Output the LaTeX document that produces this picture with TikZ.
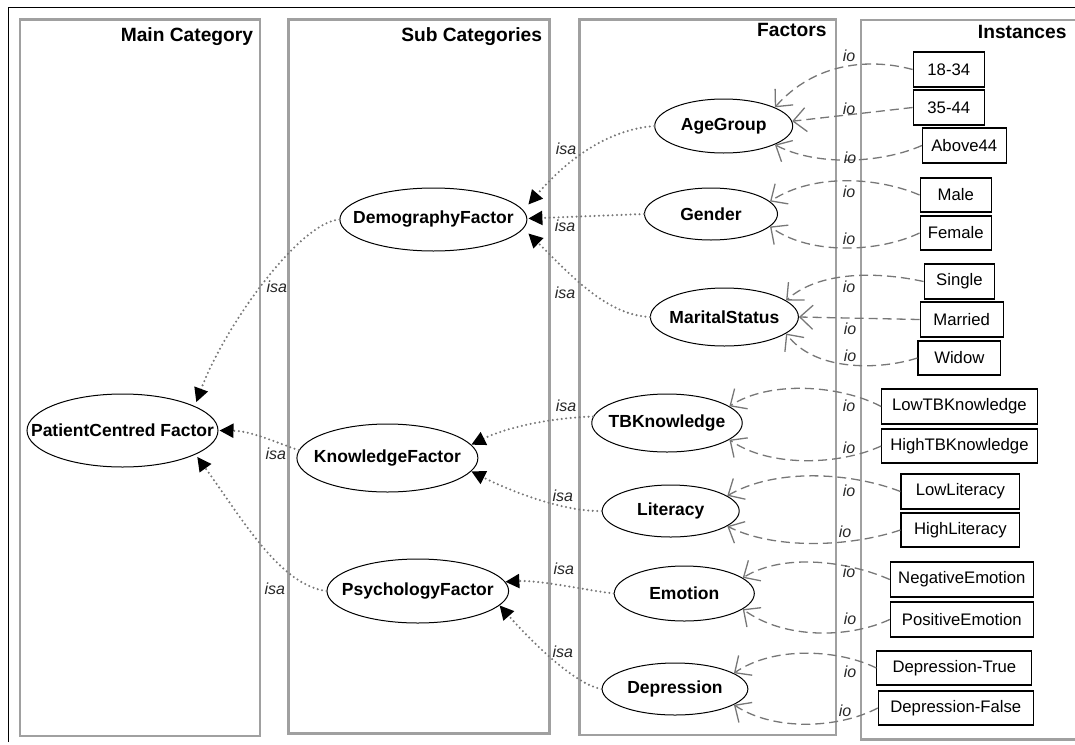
\documentclass[tikz,border=0pt]{standalone}
\usepackage{fontspec}
\setmainfont{Liberation Sans}
\usetikzlibrary{arrows.meta,shapes.geometric}

\definecolor{panelgray}{HTML}{A0A0A0}
\definecolor{linkgray}{HTML}{777777}

\tikzset{
  panel/.style={draw=panelgray, line width=2.4pt},
  paneltitle/.style={anchor=base east, inner sep=0pt, font=\fontsize{19.2}{22}\selectfont\bfseries},
  factortext/.style={inner sep=0pt, font=\fontsize{17.5}{20}\selectfont\bfseries},
  factor/.style n args={3}{ellipse, draw=black, line width=1pt, fill=white, inner sep=0pt,
    minimum width=#1, minimum height=#2, label={[factortext]center:#3}},
  instance/.style={rectangle, draw=black, line width=1.1pt, fill=white, inner sep=0pt,
    font=\fontsize{16.7}{19}\selectfont},
  isa/.style={draw=linkgray, line width=2.3pt, line cap=round, dash pattern=on 0pt off 4.5pt,
    -{Triangle[length=14pt,width=14pt,black]}},
  io/.style={draw=linkgray, line width=1.3pt, dash pattern=on 9pt off 5pt,
    -{Straight Barb[length=13pt,width=24pt,linkgray]}},
  rellabel/.style={inner sep=0pt, font=\fontsize{16}{18}\selectfont\itshape, text=black!85}
}

\begin{document}
\begin{tikzpicture}[x=1pt,y=-1pt]
\useasboundingbox (0,0) rectangle (1075,744);

% outer frame
\draw[black, line width=1.4pt] (8.3,742) -- (8.3,7.3) -- (1075,7.3);

% column panels
\draw[panel] (20,19.5) rectangle (260,736);
\draw[panel] (288.3,19.5) rectangle (549.3,733.3);
\draw[panel] (579.3,19.5) rectangle (835.7,735);
\draw[panel] (1075,20) -- (860.7,20) -- (860.7,739.3) -- (1075,739.3);

\node[paneltitle] (tmain) at (253.3,41.7) {Main Category};
\node[paneltitle] (tsub)  at (542.3,41.7) {Sub Categories};
\node[paneltitle] (tfac)  at (826.7,36.7) {Factors};
\node[paneltitle] (tinst) at (1066.7,38.3) {Instances};

% main and sub categories
\node[factor={191pt}{73pt}{PatientCentred Factor}] (pcf)   at (122.5,430.5) {};
\node[factor={187pt}{63pt}{DemographyFactor}]      (dem)   at (433.4,219.5) {};
\node[factor={181pt}{68pt}{KnowledgeFactor}]       (know)  at (387.4,458) {};
\node[factor={181.6pt}{64pt}{PsychologyFactor}]    (psych) at (417.8,591) {};

% factors
\node[factor={138pt}{54pt}{AgeGroup}]      (age)     at (723.7,126) {};
\node[factor={133pt}{52pt}{Gender}]        (gender)  at (711,214) {};
\node[factor={148pt}{58pt}{MaritalStatus}] (marital) at (724.4,317) {};
\node[factor={150.5pt}{58pt}{TBKnowledge}] (tbk)     at (667,423) {};
\node[factor={137pt}{52pt}{Literacy}]      (lit)     at (670.7,511) {};
\node[factor={140pt}{55pt}{Emotion}]       (emo)     at (684.3,593.5) {};
\node[factor={145.7pt}{52pt}{Depression}]  (dep)     at (675,689) {};

% instances
\node[instance, minimum width=71.3pt, minimum height=35pt] (b1834)    at (948.8,69.5)  {18-34};
\node[instance, minimum width=71.3pt, minimum height=35pt] (b3544)    at (948.8,107.5) {35-44};
\node[instance, minimum width=83.7pt, minimum height=35pt] (above)    at (964.3,145.5) {Above44};
\node[instance, minimum width=71.3pt, minimum height=34pt] (male)     at (955.7,195)   {Male};
\node[instance, minimum width=71.3pt, minimum height=34pt] (female)   at (955.7,233)   {Female};
\node[instance, minimum width=70.6pt, minimum height=35pt] (single)   at (959.4,281.5) {Single};
\node[instance, minimum width=83.3pt, minimum height=35pt] (married)  at (961.7,319.5) {Married};
\node[instance, minimum width=82.7pt, minimum height=34pt] (widow)    at (959.3,358)   {Widow};
\node[instance, minimum width=155.3pt, minimum height=35pt] (lowtbk)  at (959.4,406.5) {LowTBKnowledge};
\node[instance, minimum width=155.3pt, minimum height=34pt] (hightbk) at (959.4,446)   {HighTBKnowledge};
\node[instance, minimum width=118.8pt, minimum height=35pt] (lowlit)  at (960.4,491.5) {LowLiteracy};
\node[instance, minimum width=118.8pt, minimum height=34pt] (highlit) at (960.4,530)   {HighLiteracy};
\node[instance, minimum width=143pt, minimum height=35pt] (negemo)    at (961.8,579.5) {NegativeEmotion};
\node[instance, minimum width=143pt, minimum height=35pt] (posemo)    at (961.8,619.5) {PositiveEmotion};
\node[instance, minimum width=155pt, minimum height=34pt] (deptrue)   at (954.4,668)   {Depression-True};
\node[instance, minimum width=155pt, minimum height=34pt] (depfalse)  at (955.8,708)   {Depression-False};

% isa links
\draw[isa] (dem.west) .. controls (300,222) and (225,325) .. ([xshift=4pt,yshift=3pt]pcf.20);
\draw[isa] (know.175) .. controls (270,440) and (250,431) .. ([xshift=1pt]pcf.east);
\draw[isa] (psych.west) .. controls (280,585) and (243,520) .. ([xshift=5pt,yshift=-1pt]pcf.-20);
\draw[isa] (age.west) .. controls (605,130) and (565,162) .. ([xshift=1pt,yshift=15pt]dem.east);
\draw[isa] (gender.west) -- ([xshift=1pt,yshift=1pt]dem.east);
\draw[isa] (marital.west) .. controls (605,315) and (568,272) .. ([xshift=1pt,yshift=-14pt]dem.east);
\draw[isa] (tbk.175) .. controls (548,418) and (505,428) .. (know.9);
\draw[isa] (lit.west) .. controls (565,512) and (512,492) .. (know.-9);
\draw[isa] (emo.west) .. controls (585,590) and (540,580) .. (psych.6);
\draw[isa] (dep.west) .. controls (575,685) and (530,640) .. (psych.-10);

% io links
\draw[io] (b1834.west) .. controls (870,58) and (815,62) .. (age.20);
\draw[io] (b3544.west) -- (age.4);
\draw[io] (above.west) .. controls (880,164) and (815,166) .. (age.-20);
\draw[io] (male.west) .. controls (880,178) and (815,172) .. (gender.12);
\draw[io] (female.west) .. controls (880,252) and (810,256) .. (gender.-12);
\draw[io] (single.west) .. controls (880,272) and (820,270) .. (marital.15);
\draw[io] (married.west) -- (marital.east);
\draw[io] (widow.west) .. controls (880,370) and (815,372) .. (marital.-15);
\draw[io] (lowtbk.west) .. controls (840,385) and (770,380) .. (tbk.15);
\draw[io] (hightbk.west) .. controls (840,465) and (770,468) .. (tbk.-15);
\draw[io] (lowlit.west) .. controls (850,472) and (775,468) .. (lit.15);
\draw[io] (highlit.west) .. controls (850,547) and (775,550) .. (lit.-15);
\draw[io] (negemo.west) .. controls (850,562) and (785,552) .. (emo.15);
\draw[io] (posemo.west) .. controls (850,638) and (785,640) .. (emo.-15);
\draw[io] (deptrue.west) .. controls (840,650) and (775,645) .. (dep.15);
\draw[io] (depfalse.west) .. controls (840,728) and (775,732) .. (dep.-15);

% link labels
\node[rellabel] (isa1)  at (276.9,287) {isa};
\node[rellabel] (isa2)  at (275.8,454) {isa};
\node[rellabel] (isa3)  at (274.8,589) {isa};
\node[rellabel] (isa4)  at (566,149) {isa};
\node[rellabel] (isa5)  at (565,226) {isa};
\node[rellabel] (isa6)  at (565,293) {isa};
\node[rellabel] (isa7)  at (566,406) {isa};
\node[rellabel] (isa8)  at (562.9,496) {isa};
\node[rellabel] (isa9)  at (563.9,569) {isa};
\node[rellabel] (isa10) at (562.9,652) {isa};

\node[rellabel] (io1)  at (849,56)  {io};
\node[rellabel] (io2)  at (849,109) {io};
\node[rellabel] (io3)  at (850,158) {io};
\node[rellabel] (io4)  at (849,192) {io};
\node[rellabel] (io5)  at (849,239) {io};
\node[rellabel] (io6)  at (849,287) {io};
\node[rellabel] (io7)  at (850,329) {io};
\node[rellabel] (io8)  at (850,356) {io};
\node[rellabel] (io9)  at (849,406) {io};
\node[rellabel] (io10) at (849,448) {io};
\node[rellabel] (io11) at (849,491) {io};
\node[rellabel] (io12) at (845,532) {io};
\node[rellabel] (io13) at (849,572) {io};
\node[rellabel] (io14) at (850,619) {io};
\node[rellabel] (io15) at (850,672) {io};
\node[rellabel] (io16) at (845,711) {io};
\end{tikzpicture}
\end{document}
